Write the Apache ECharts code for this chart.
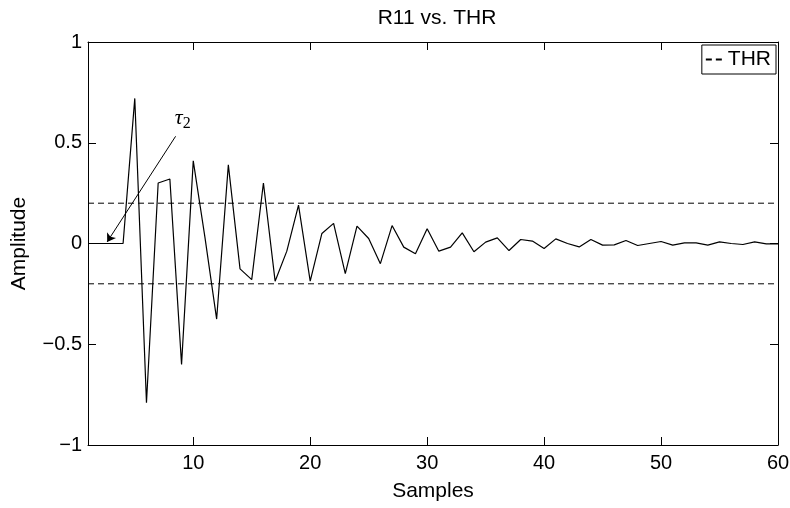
<!DOCTYPE html>
<html>
<head>
<meta charset="utf-8">
<style>html,body{margin:0;padding:0;background:#fff}#main{width:790px;height:508px}</style>
<script src="https://cdn.jsdelivr.net/npm/echarts@6/dist/echarts.min.js"></script>
</head>
<body>
<div id="main"></div>
<script>
// R11 amplitude for samples 1..60
var amplitude = [
	0, 0, 0, 0, 0.72, -0.79, 0.30, 0.32, -0.60, 0.41,
	0.03, -0.375, 0.39, -0.126, -0.179, 0.30, -0.187, -0.038, 0.19, -0.187,
	0.05, 0.10, -0.15, 0.086, 0.025, -0.10, 0.089, -0.018, -0.051, 0.073,
	-0.038, -0.018, 0.053, -0.041, 0.007, 0.028, -0.035, 0.02, 0.012, -0.025,
	0.023, 0.0, -0.017, 0.02, -0.008, -0.007, 0.015, -0.01, 0.0, 0.01,
	-0.008, 0.003, 0.003, -0.008, 0.008, 0.0, -0.005, 0.008, -0.002, -0.002
];
var thrLevels = [0.2, -0.2];
var xRange = [1, 60];
var xTicks = [10, 20, 30, 40, 50, 60];
// tau_2 arrow: [start, end] in data coords
var tauArrow = [[8.49, 0.532], [2.64, 0.008]];
var tauLabelAt = [9.1, 0.62];

var font = "'Liberation Sans', Arial, sans-serif";

var signal = [];
for (var i = 0; i < amplitude.length; i++) {
	signal.push([i + 1, amplitude[i]]);
}

var thrSeries = thrLevels.map(function (v) {
	return {
		name: 'THR',
		type: 'line',
		symbol: 'none',
		silent: true,
		itemStyle: { color: '#000' },
		lineStyle: { color: '#000', width: 1, type: [6, 4] },
		data: [[xRange[0], v], [xRange[1], v]]
	};
});

var myChart = echarts.init(document.getElementById('main'));

var option = {
	animation: false,
	backgroundColor: '#fff',
	textStyle: { fontFamily: font, color: '#000' },
	title: {
		text: 'R11 vs. THR',
		left: 432,
		textAlign: 'center',
		top: 3,
		textStyle: { fontFamily: font, fontSize: 21, fontWeight: 'normal', color: '#000' }
	},
	legend: {
		data: ['THR'],
		right: 14,
		top: 45,
		orient: 'vertical',
		backgroundColor: '#fff',
		borderColor: '#000',
		borderWidth: 1,
		borderRadius: 0,
		padding: [4, 5, 4, 3],
		itemWidth: 17,
		itemHeight: 12,
		itemGap: 0,
		itemStyle: { color: 'rgba(0,0,0,0)', borderWidth: 0, opacity: 0 },
		textStyle: { fontFamily: font, fontSize: 21, color: '#000' }
	},
	grid: {
		left: 88,
		right: 12,
		top: 42,
		bottom: 63,
		outerBoundsMode: 'none'
	},
	xAxis: [{
		type: 'value',
		min: xRange[0],
		max: xRange[1],
		name: 'Samples',
		nameLocation: 'middle',
		nameGap: 36,
		nameTextStyle: { fontFamily: font, fontSize: 21, color: '#000' },
		axisLine: { onZero: false, lineStyle: { color: '#000', width: 1 } },
		axisTick: { inside: true, length: 8, customValues: xTicks, lineStyle: { color: '#000' } },
		axisLabel: { customValues: xTicks, margin: 8, fontFamily: font, fontSize: 20, color: '#000' },
		splitLine: { show: false }
	}, {
		type: 'value',
		position: 'top',
		min: xRange[0],
		max: xRange[1],
		axisLine: { onZero: false, lineStyle: { color: '#000', width: 1 } },
		axisTick: { inside: true, length: 8, customValues: xTicks, lineStyle: { color: '#000' } },
		axisLabel: { show: false },
		splitLine: { show: false }
	}],
	yAxis: [{
		type: 'value',
		min: -1,
		max: 1,
		interval: 0.5,
		name: 'Amplitude',
		nameLocation: 'middle',
		nameGap: 58,
		nameTextStyle: { fontFamily: font, fontSize: 21, color: '#000' },
		axisLine: { show: true, onZero: false, lineStyle: { color: '#000', width: 1 } },
		axisTick: { show: true, inside: true, length: 8, lineStyle: { color: '#000' } },
		axisLabel: {
			margin: 6,
			fontFamily: font,
			fontSize: 20,
			color: '#000',
			formatter: function (v) { return String(v).replace('-', '\u2212'); }
		},
		splitLine: { show: false }
	}, {
		type: 'value',
		position: 'right',
		min: -1,
		max: 1,
		interval: 0.5,
		axisLine: { show: true, onZero: false, lineStyle: { color: '#000', width: 1 } },
		axisTick: { show: true, inside: true, length: 8, lineStyle: { color: '#000' } },
		axisLabel: { show: false },
		splitLine: { show: false }
	}],
	series: [{
		name: 'R11',
		type: 'line',
		symbol: 'none',
		lineStyle: { color: '#000', width: 1.2 },
		data: signal,
		markLine: {
			silent: true,
			symbol: ['none', 'arrow'],
			symbolSize: 8,
			label: { show: false },
			lineStyle: { color: '#000', width: 1, type: 'solid' },
			data: [[{ coord: tauArrow[0] }, { coord: tauArrow[1] }]]
		},
		markPoint: {
			silent: true,
			symbol: 'circle',
			symbolSize: 1,
			itemStyle: { color: 'rgba(0,0,0,0)' },
			label: {
				show: true,
				formatter: '{t|τ}{s|2}',
				rich: {
					t: { fontFamily: "'Liberation Serif', serif", fontStyle: 'italic', fontSize: 22, color: '#000' },
					s: { fontFamily: "'Liberation Serif', serif", fontSize: 16, color: '#000', padding: [10, 0, 0, 0] }
				}
			},
			data: [{ coord: tauLabelAt }]
		}
	}].concat(thrSeries)
};

myChart.setOption(option);
</script>
</body>
</html>
